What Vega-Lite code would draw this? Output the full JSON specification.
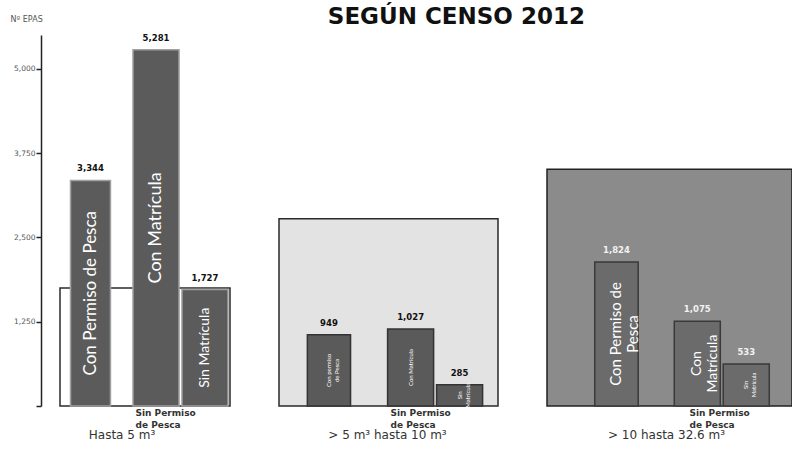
{
  "$schema": "https://vega.github.io/schema/vega-lite/v6.json",
  "padding": {"left": 10, "top": 6, "right": 0, "bottom": 0},
  "background": "#ffffff",
  "title": {"text": "SEGÚN CENSO 2012", "font": "DejaVu Sans", "fontSize": 23, "fontWeight": "bold", "color": "#111111", "anchor": "middle", "dx": 55, "offset": -14},
  "config": {"view": {"stroke": null}},
  "datasets": {
    "bars": [
      {"grupo": "Hasta 5 m³", "permiso": "Con Permiso de Pesca", "sub": "Con Permiso de Pesca", "valor": 3344, "etiqueta": "Con Permiso de Pesca"},
      {"grupo": "Hasta 5 m³", "permiso": "Sin Permiso de Pesca", "sub": "Con Matrícula", "valor": 5281, "etiqueta": "Con Matrícula"},
      {"grupo": "Hasta 5 m³", "permiso": "Sin Permiso de Pesca", "sub": "Sin Matrícula", "valor": 1727, "etiqueta": "Sin Matrícula"},
      {"grupo": "> 5 m³ hasta 10 m³", "permiso": "Con Permiso de Pesca", "sub": "Con Permiso de Pesca", "valor": 949, "etiqueta": "Con permiso\nde Pesca"},
      {"grupo": "> 5 m³ hasta 10 m³", "permiso": "Sin Permiso de Pesca", "sub": "Con Matrícula", "valor": 1027, "etiqueta": "Con Matrícula"},
      {"grupo": "> 5 m³ hasta 10 m³", "permiso": "Sin Permiso de Pesca", "sub": "Sin Matrícula", "valor": 285, "etiqueta": "Sin\nMatrícula"},
      {"grupo": "> 10 hasta 32.6 m³", "permiso": "Con Permiso de Pesca", "sub": "Con Permiso de Pesca", "valor": 1824, "etiqueta": "Con Permiso de\nPesca"},
      {"grupo": "> 10 hasta 32.6 m³", "permiso": "Sin Permiso de Pesca", "sub": "Con Matrícula", "valor": 1075, "etiqueta": "Con\nMatrícula"},
      {"grupo": "> 10 hasta 32.6 m³", "permiso": "Sin Permiso de Pesca", "sub": "Sin Matrícula", "valor": 533, "etiqueta": "Sin\nMatrícula"}
    ],
    "boxes": [
      {"grupo": "Hasta 5 m³", "valor": 1750},
      {"grupo": "> 5 m³ hasta 10 m³", "valor": 2500},
      {"grupo": "> 10 hasta 32.6 m³", "valor": 3000}
    ]
  },
  "hconcat": [
    {
      "width": 170, "height": 371,
      "title": {"text": "Hasta 5 m³", "orient": "bottom", "anchor": "middle", "dx": -23, "offset": 1, "font": "DejaVu Sans", "fontSize": 12, "fontWeight": "normal", "color": "#333333"},
      "encoding": {
        "y": {"field": "valor", "type": "quantitative", "scale": {"domain": [0, 5500], "nice": false},
          "axis": {"title": "Nº EPAS", "titleAngle": 0, "titleX": -31, "titleY": -16, "titleAlign": "left", "titleBaseline": "middle", "titleFontSize": 8, "titleFont": "DejaVu Sans", "titleFontWeight": "normal", "titleColor": "#555555",
            "values": [0, 1250, 2500, 3750, 5000], "labelExpr": "datum.value == 0 ? '' : format(datum.value, ',')", "offset": 19, "grid": false,
            "domainColor": "#222222", "domainWidth": 1.5, "tickColor": "#222222", "tickSize": 5, "tickWidth": 1.5,
            "labelFontSize": 7.5, "labelColor": "#555555", "labelFont": "DejaVu Sans", "labelPadding": 1}}
      },
      "layer": [
        {
          "data": {"name": "boxes"},
          "transform": [{"filter": "datum.grupo == 'Hasta 5 m³'"}],
          "mark": {"type": "rect", "fill": "#ffffff", "stroke": "#2a2a2a", "strokeWidth": 1.5},
          "encoding": {"y2": {"datum": 0}}
        },
        {
          "data": {"name": "bars"},
          "transform": [{"filter": "datum.grupo == 'Hasta 5 m³'"}, {"calculate": "datum.valor / 2", "as": "medio"}],
          "encoding": {
            "x": {"field": "permiso", "type": "nominal", "scale": {"domain": ["Con Permiso de Pesca", "Sin Permiso de Pesca"], "paddingInner": 0, "paddingOuter": 0, "range": [-12, 158]},
              "axis": {"title": ["Sin Permiso", "de Pesca"], "labels": false, "ticks": false, "domain": false, "titleX": 75, "titleY": 2, "titleAlign": "left", "titleAnchor": "start", "titleBaseline": "top", "titleFont": "DejaVu Sans", "titleFontSize": 9, "titleFontWeight": "bold", "titleColor": "#333333", "titleLineHeight": 12}}
          },
          "layer": [
            {
              "transform": [{"filter": "datum.permiso == 'Con Permiso de Pesca'"}],
              "layer": [
                {"mark": {"type": "bar", "width": {"band": 0.47}, "fill": "#5b5b5b", "stroke": "#a0a0a0", "strokeWidth": 1.5}},
                {"mark": {"type": "text", "baseline": "bottom", "dy": -7, "font": "DejaVu Sans", "fontSize": 8.5, "fontWeight": "bold", "color": "#111111"},
                 "encoding": {"text": {"field": "valor", "type": "quantitative", "format": ","}}},
                {"mark": {"type": "text", "angle": 270, "align": "center", "baseline": "middle", "lineBreak": "\n", "font": "Lato", "fontSize": 17, "color": "#ffffff"},
                 "encoding": {"y": {"field": "medio", "type": "quantitative"}, "text": {"field": "etiqueta"}}}
              ]
            },
            {
              "transform": [{"filter": "datum.permiso == 'Sin Permiso de Pesca'"}],
              "encoding": {"xOffset": {"field": "sub", "type": "nominal", "scale": {"domain": ["Con Matrícula", "Sin Matrícula"], "paddingInner": 0.06, "paddingOuter": 0, "range": [0, 95]}}},
              "layer": [
                {"mark": {"type": "bar", "fill": "#5b5b5b", "stroke": "#a0a0a0", "strokeWidth": 1.5}},
                {"mark": {"type": "text", "baseline": "bottom", "dy": -7, "font": "DejaVu Sans", "fontSize": 8.5, "fontWeight": "bold", "color": "#111111"},
                 "encoding": {"text": {"field": "valor", "type": "quantitative", "format": ","}}},
                {"mark": {"type": "text", "angle": 270, "align": "center", "baseline": "middle", "lineBreak": "\n", "font": "Lato", "color": "#ffffff"},
                 "encoding": {"y": {"field": "medio", "type": "quantitative"}, "text": {"field": "etiqueta"},
                   "size": {"condition": {"test": "datum.sub == 'Sin Matrícula'", "value": 14}, "value": 18}}}
              ]
            }
          ]
        }
      ]
    },
    {
      "width": 219, "height": 371,
      "title": {"text": "> 5 m³ hasta 10 m³", "orient": "bottom", "anchor": "middle", "dx": -1, "offset": 1, "font": "DejaVu Sans", "fontSize": 12, "fontWeight": "normal", "color": "#333333"},
      "encoding": {
        "y": {"field": "valor", "type": "quantitative", "scale": {"domain": [0, 4950], "nice": false}, "axis": null}
      },
      "layer": [
        {
          "data": {"name": "boxes"},
          "transform": [{"filter": "datum.grupo == '> 5 m³ hasta 10 m³'"}],
          "mark": {"type": "rect", "fill": "#e3e3e3", "stroke": "#2a2a2a", "strokeWidth": 1.5},
          "encoding": {"y2": {"datum": 0}}
        },
        {
          "data": {"name": "bars"},
          "transform": [{"filter": "datum.grupo == '> 5 m³ hasta 10 m³'"}, {"calculate": "datum.valor / 2", "as": "medio"}],
          "encoding": {
            "x": {"field": "permiso", "type": "nominal", "scale": {"domain": ["Con Permiso de Pesca", "Sin Permiso de Pesca"], "paddingInner": 0.1, "paddingOuter": 0.077, "align": 0.12},
              "axis": {"title": ["Sin Permiso", "de Pesca"], "labels": false, "ticks": false, "domain": false, "titleX": 111, "titleY": 2, "titleAlign": "left", "titleAnchor": "start", "titleBaseline": "top", "titleFont": "DejaVu Sans", "titleFontSize": 9, "titleFontWeight": "bold", "titleColor": "#333333", "titleLineHeight": 12}}
          },
          "layer": [
            {
              "transform": [{"filter": "datum.permiso == 'Con Permiso de Pesca'"}],
              "layer": [
                {"mark": {"type": "bar", "width": {"band": 0.45}, "fill": "#5a5a5a", "stroke": "#333333", "strokeWidth": 1.5}},
                {"mark": {"type": "text", "baseline": "bottom", "dy": -7, "font": "DejaVu Sans", "fontSize": 8.5, "fontWeight": "bold", "color": "#111111"},
                 "encoding": {"text": {"field": "valor", "type": "quantitative", "format": ","}}},
                {"mark": {"type": "text", "angle": 270, "align": "center", "baseline": "middle", "lineBreak": "\n", "font": "Lato", "fontSize": 6, "color": "#ffffff"},
                 "encoding": {"y": {"field": "medio", "type": "quantitative", "axis": null}, "text": {"field": "etiqueta"}}}
              ]
            },
            {
              "transform": [{"filter": "datum.permiso == 'Sin Permiso de Pesca'"}],
              "encoding": {"xOffset": {"field": "sub", "type": "nominal", "scale": {"domain": ["Con Matrícula", "Sin Matrícula"], "paddingInner": 0.15, "paddingOuter": 0}}},
              "layer": [
                {"mark": {"type": "bar", "fill": "#5a5a5a", "stroke": "#333333", "strokeWidth": 1.5}},
                {"mark": {"type": "text", "baseline": "bottom", "dy": -7, "font": "DejaVu Sans", "fontSize": 8.5, "fontWeight": "bold", "color": "#111111"},
                 "encoding": {"text": {"field": "valor", "type": "quantitative", "format": ","}}},
                {"mark": {"type": "text", "angle": 270, "align": "center", "baseline": "middle", "lineBreak": "\n", "font": "Lato", "fontSize": 6, "color": "#ffffff"},
                 "encoding": {"y": {"field": "medio", "type": "quantitative", "axis": null}, "text": {"field": "etiqueta"}}}
              ]
            }
          ]
        }
      ]
    },
    {
      "width": 245, "height": 371,
      "title": {"text": "> 10 hasta 32.6 m³", "orient": "bottom", "anchor": "middle", "dx": -3, "offset": 1, "font": "DejaVu Sans", "fontSize": 12, "fontWeight": "normal", "color": "#333333"},
      "encoding": {
        "y": {"field": "valor", "type": "quantitative", "scale": {"domain": [0, 4700], "nice": false}, "axis": null}
      },
      "layer": [
        {
          "data": {"name": "boxes"},
          "transform": [{"filter": "datum.grupo == '> 10 hasta 32.6 m³'"}],
          "mark": {"type": "rect", "fill": "#8b8b8b", "stroke": "#222222", "strokeWidth": 1.5},
          "encoding": {"y2": {"datum": 0}}
        },
        {
          "data": {"name": "bars"},
          "transform": [{"filter": "datum.grupo == '> 10 hasta 32.6 m³'"}, {"calculate": "datum.valor / 2", "as": "medio"}],
          "encoding": {
            "x": {"field": "permiso", "type": "nominal", "scale": {"domain": ["Con Permiso de Pesca", "Sin Permiso de Pesca"], "paddingInner": 0.09, "paddingOuter": 0.2},
              "axis": {"title": ["Sin Permiso", "de Pesca"], "labels": false, "ticks": false, "domain": false, "titleX": 142, "titleY": 2, "titleAlign": "left", "titleAnchor": "start", "titleBaseline": "top", "titleFont": "DejaVu Sans", "titleFontSize": 9, "titleFontWeight": "bold", "titleColor": "#333333", "titleLineHeight": 12}}
          },
          "layer": [
            {
              "transform": [{"filter": "datum.permiso == 'Con Permiso de Pesca'"}],
              "layer": [
                {"mark": {"type": "bar", "width": {"band": 0.45}, "fill": "#6b6b6b", "stroke": "#3a3a3a", "strokeWidth": 1.5}},
                {"mark": {"type": "text", "baseline": "bottom", "dy": -7, "font": "DejaVu Sans", "fontSize": 8.5, "fontWeight": "bold", "color": "#f2f2f2"},
                 "encoding": {"text": {"field": "valor", "type": "quantitative", "format": ","}}},
                {"mark": {"type": "text", "angle": 270, "align": "center", "baseline": "middle", "lineBreak": "\n", "font": "Lato", "fontSize": 15, "color": "#ffffff"},
                 "encoding": {"y": {"field": "medio", "type": "quantitative", "axis": null}, "text": {"field": "etiqueta"}}}
              ]
            },
            {
              "transform": [{"filter": "datum.permiso == 'Sin Permiso de Pesca'"}],
              "encoding": {"xOffset": {"field": "sub", "type": "nominal", "scale": {"domain": ["Con Matrícula", "Sin Matrícula"], "paddingInner": 0.13, "paddingOuter": 0}}},
              "layer": [
                {"mark": {"type": "bar", "fill": "#6b6b6b", "stroke": "#3a3a3a", "strokeWidth": 1.5}},
                {"mark": {"type": "text", "baseline": "bottom", "dy": -7, "font": "DejaVu Sans", "fontSize": 8.5, "fontWeight": "bold", "color": "#f2f2f2"},
                 "encoding": {"text": {"field": "valor", "type": "quantitative", "format": ","}}},
                {"mark": {"type": "text", "angle": 270, "align": "center", "baseline": "middle", "lineBreak": "\n", "font": "Lato", "color": "#ffffff"},
                 "encoding": {"y": {"field": "medio", "type": "quantitative", "axis": null}, "text": {"field": "etiqueta"},
                   "size": {"condition": {"test": "datum.sub == 'Sin Matrícula'", "value": 6}, "value": 14}}}
              ]
            }
          ]
        }
      ]
    }
  ],
  "spacing": 47
}
